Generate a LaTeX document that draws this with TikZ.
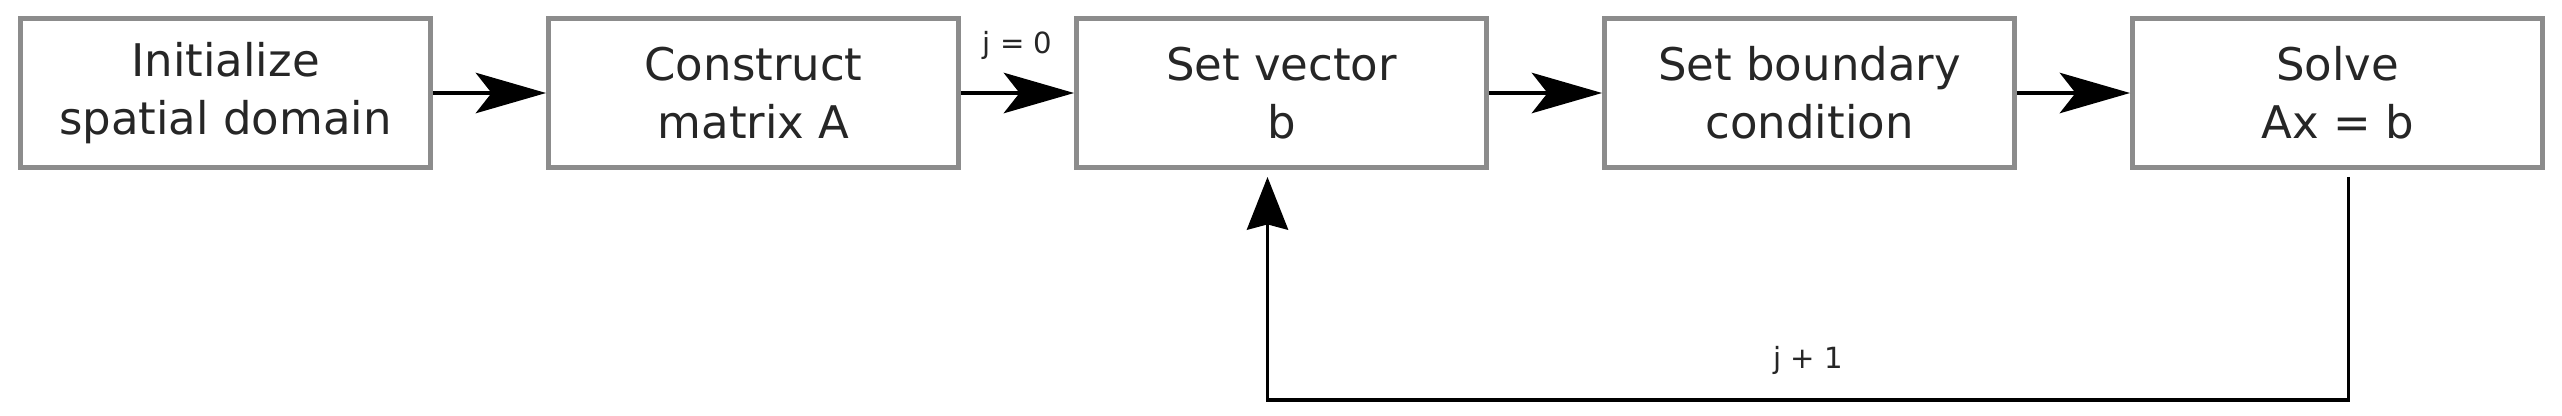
\documentclass[tikz,border=0pt]{standalone}
\usepackage{fontspec}
\setmainfont{DejaVu Sans}
\usetikzlibrary{arrows.meta}
\begin{document}
\begin{tikzpicture}[>={Stealth[length=20pt,width=11.5pt,inset=4.5pt]},font=\fontsize{12.8}{16.5}\selectfont]

    \useasboundingbox (0,0) rectangle (25.62,-4.15);

    % Define node styles
    \tikzstyle{step_block} = [draw=black!45, line width=1.4pt, fill=white, minimum width=4.1cm, minimum height=1.49cm, text centered, align=center, text=black!85]
    \tikzstyle{flow_arrow} = [->, black, line width=1.1pt]
    \tikzstyle{loop_arrow} = [-{Stealth[length=15pt,width=11.7pt,inset=1.5pt]}, black, line width=1.1pt]
    \tikzstyle{small_label} = [font=\fontsize{8.3}{10}\selectfont, text=black!85]

    % Draw nodes
    \node [step_block] (init) at (2.255,-0.93) {Initialize\\ spatial domain};
    \node [step_block, right of=init, xshift=4.28cm] (matrix_a) {Construct\\ matrix A};
    \node [step_block, right of=matrix_a, xshift=4.28cm] (set_b) {Set vector\\ b};
    \node [step_block, right of=set_b, xshift=4.28cm] (boundary) {Set boundary\\ condition};
    \node [step_block, right of=boundary, xshift=4.28cm] (solve) {Solve\\ Ax = b};

    \coordinate (loop_bottom) at (0,-4.0);
    \coordinate (loop_start) at ([xshift=0.11cm]solve.south);
    \coordinate (loop_end) at ([xshift=-0.14cm]set_b.south);

    % Draw arrows
    \draw [flow_arrow] (init) -- (matrix_a);
    \draw [flow_arrow] (matrix_a) --node[small_label, midway, above=0.2cm] {j = 0} (set_b);
    \draw [flow_arrow] (set_b) -- (boundary);
    \draw [flow_arrow] (boundary) -- (solve);

    \draw [loop_arrow, shorten <=0.07cm, shorten >=0.07cm] (loop_start) |- (loop_end |- loop_bottom) node[small_label, pos=0.75, above=0.12cm] {j + 1} -- (loop_end);

\end{tikzpicture}
\end{document}
